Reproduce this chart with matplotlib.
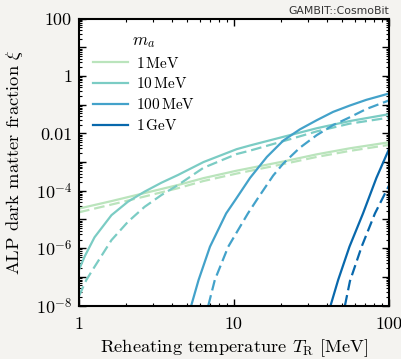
import matplotlib
matplotlib.use("Agg")
import matplotlib.pyplot as plt
import matplotlib.ticker as mticker
import numpy as np

plt.rcParams["font.family"] = "serif"
plt.rcParams["font.serif"] = ["cmr10"]
plt.rcParams["mathtext.fontset"] = "cm"
plt.rcParams["axes.unicode_minus"] = False

# Reheating temperature [MeV] and log10 of the ALP fraction
T_1mev = [1.0, 1.62, 2.65, 4.35, 6.35, 10.4, 20.8, 34.2, 55.8, 100]
xi_1mev = [-4.62, -4.36, -4.08, -3.80, -3.56, -3.30, -2.98, -2.73, -2.52, -2.31]
xi_1mev_d = [-4.75, -4.48, -4.20, -3.91, -3.66, -3.40, -3.07, -2.82, -2.61, -2.40]

T_10mev = [1.0, 1.09, 1.26, 1.62, 2.07, 2.65, 3.4, 4.35, 6.35, 10.4, 12.7, 20.8, 34.2, 55.8, 100]
xi_10mev = [-6.75, -6.28, -5.62, -4.85, -4.38, -4.03, -3.72, -3.45, -3.00, -2.55, -2.42, -2.12, -1.82, -1.57, -1.33]
T_10mev_d = [1.0, 1.115, 1.26, 1.62, 2.07, 2.65, 3.4, 4.35, 6.35, 10.4, 12.7, 20.8, 34.2, 55.8, 100]
xi_10mev_d = [-7.67, -7.11, -6.65, -5.72, -5.08, -4.56, -4.15, -3.80, -3.20, -2.72, -2.60, -2.27, -1.93, -1.66, -1.45]

T_100mev = [5.3, 5.91, 7.0, 8.9, 10.2, 12.7, 16.3, 20.8, 26.6, 34.2, 43.6, 55.8, 71.4, 100]
xi_100mev = [-8.0, -7.11, -5.95, -4.79, -4.32, -3.55, -2.82, -2.25, -1.86, -1.54, -1.25, -1.03, -0.83, -0.61]
T_100mev_d = [6.83, 7.52, 9.18, 12.3, 14.3, 17.9, 20.8, 26.6, 34.2, 43.6, 55.8, 71.4, 100]
xi_100mev_d = [-8.0, -7.11, -5.95, -4.79, -4.25, -3.47, -3.05, -2.50, -2.06, -1.71, -1.44, -1.15, -0.85]

T_1gev = [42, 47, 55.6, 68, 83, 100]
xi_1gev = [-8.0, -7.11, -5.95, -4.79, -3.55, -2.55]
T_1gev_d = [52, 56, 66.6, 81.2, 100]
xi_1gev_d = [-8.0, -7.15, -5.95, -4.79, -3.82]

labels = ["1$\\,$MeV", "10$\\,$MeV", "100$\\,$MeV", "1$\\,$GeV"]
colors = ["#bae4bc", "#7bccc4", "#43a2ca", "#0868ac"]

solid = [(T_1mev, xi_1mev), (T_10mev, xi_10mev), (T_100mev, xi_100mev), (T_1gev, xi_1gev)]
dashed = [(T_1mev, xi_1mev_d), (T_10mev_d, xi_10mev_d), (T_100mev_d, xi_100mev_d), (T_1gev_d, xi_1gev_d)]

fig = plt.figure(figsize=(4.01, 3.59), dpi=100, facecolor="#f4f3f0")
ax = fig.add_axes([0.197, 0.149, 0.773, 0.799])
ax.set_facecolor("white")

for (t, xi), (td, xid), c, lab in zip(solid, dashed, colors, labels):
    ax.plot(t, 10 ** np.array(xi), color=c, lw=1.6, label=lab, solid_joinstyle="round")
    ax.plot(td, 10 ** np.array(xid), color=c, lw=1.6, ls=(0, (4.8, 2.2)))

ax.set_xscale("log")
ax.set_yscale("log")
ax.set_xlim(1, 100)
ax.set_ylim(1e-8, 100)

ax.set_xticks([1, 10, 100])
ax.set_xticklabels(["1", "10", "100"])
yt = [1e-8, 1e-7, 1e-6, 1e-5, 1e-4, 1e-3, 1e-2, 1e-1, 1, 10, 100]
ytl = ["$10^{-8}$", "", "$10^{-6}$", "", "$10^{-4}$", "", "0.01", "", "1", "", "100"]
ax.set_yticks(yt)
ax.set_yticklabels(ytl)
ax.xaxis.set_minor_locator(mticker.LogLocator(base=10, subs=np.arange(2, 10), numticks=20))
ax.yaxis.set_minor_locator(mticker.LogLocator(base=10, subs=np.arange(2, 10), numticks=20))
ax.yaxis.set_minor_formatter(mticker.NullFormatter())
ax.xaxis.set_minor_formatter(mticker.NullFormatter())

ax.tick_params(which="both", direction="in", top=True, right=True, labelsize=13)
ax.tick_params(which="major", length=5, width=1.0)
ax.tick_params(axis="x", which="major", pad=8)
ax.tick_params(axis="y", which="major", pad=5)
ax.tick_params(which="minor", length=2.5, width=0.8)
for s in ax.spines.values():
    s.set_linewidth(1.5)

ax.set_xlabel("Reheating temperature $T_\\mathrm{R}$ [MeV]", fontsize=13.3)
ax.set_ylabel("ALP dark matter fraction $\\xi$", fontsize=13.3)
ax.xaxis.set_label_coords(0.5, -0.11)
ax.yaxis.set_label_coords(-0.175, 0.5)

leg = ax.legend(title="$m_a$", loc="upper left", bbox_to_anchor=(0.0, 1.0),
                frameon=False, fontsize=11, handlelength=2.3, handletextpad=0.55,
                labelspacing=0.38, borderaxespad=0.5)
leg.get_title().set_fontsize(12.5)

fig.text(0.970, 0.969, "GAMBIT::CosmoBit", ha="right", va="center",
         fontsize=7.8, family="DejaVu Sans", color="#333333")

fig.savefig("out.png", dpi=100, facecolor=fig.get_facecolor())
